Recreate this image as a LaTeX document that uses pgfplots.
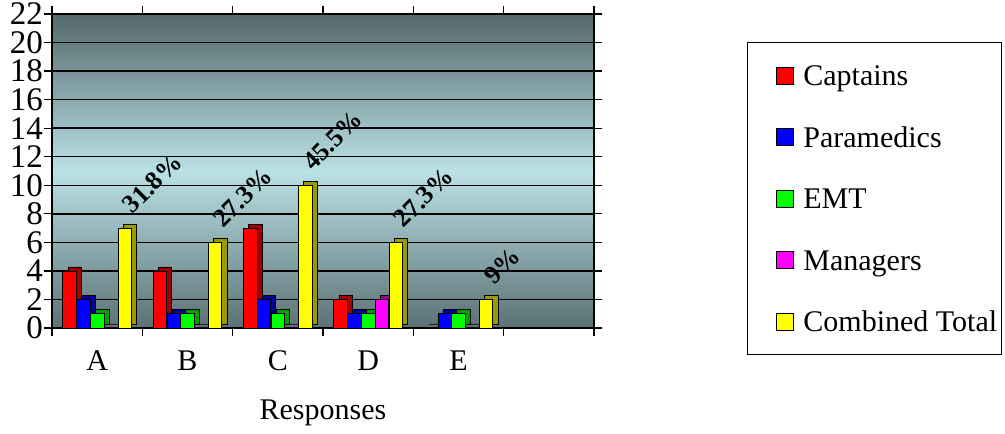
\documentclass[border=0pt]{standalone}
\usepackage{pgfplots}
\pgfplotsset{compat=1.18}
\usepackage{fontspec}
\setmainfont{Liberation Serif}
\newfontfamily\lser{Liberation Serif}
\definecolor{bgtop}{HTML}{55696D}
\definecolor{bgmid}{HTML}{BAE1E5}
\definecolor{bgbot}{HTML}{5B7175}
\definecolor{cred}{HTML}{FF0000}
\definecolor{cblue}{HTML}{0000FF}
\definecolor{cgreen}{HTML}{00FF00}
\definecolor{cmag}{HTML}{FF00FF}
\definecolor{cyel}{HTML}{FFFF00}
\definecolor{dred}{HTML}{A00000}
\definecolor{dblue}{HTML}{00009A}
\definecolor{dgreen}{HTML}{00A000}
\definecolor{dmag}{HTML}{A000A0}
\definecolor{dyel}{HTML}{9A9A00}
\pgfplotstableread{
x cap par emt man tot
0 4 2 1 0 7
1 4 1 1 0 6
2 7 2 1 0 10
3 2 1 1 2 6
4 0 1 1 0 2
}\datatable
\begin{document}
\begin{tikzpicture}
\useasboundingbox (0,0) rectangle (1005pt,434pt);
\begin{axis}[
  at={(52pt,106pt)}, anchor=south west,
  width=542pt, height=314pt, scale only axis,
  xmin=-0.5, xmax=5.5, ymin=0, ymax=22,
  ytick={0,2,...,22},
  ymajorgrids, grid style={black, line width=1.4pt},
  axis line style={black, line width=1.4pt},
  axis background/.style={shade, top color=bgtop, bottom color=bgbot, middle color=bgmid},
  tick align=outside, major tick length=8pt,
  tick style={black, line width=1.2pt},
  xtick={-0.5,0.5,1.5,2.5,3.5,4.5,5.5}, xticklabels={,,,,,,},
  extra x ticks={0,1,2,3,4}, extra x tick labels={A,B,C,D,E},
  extra x tick style={major tick length=0pt, tick style={draw=none},
     xticklabel style={font=\lser\fontsize{30}{32}\selectfont, yshift=-19pt}},
  yticklabel style={font=\lser\fontsize{33}{35}\selectfont, inner sep=1pt},
  /pgf/number format/assume math mode=true,
  xlabel={Responses},
  every axis x label/.style={at={(axis description cs:0.5,0)}, anchor=center, yshift=-85pt, font=\lser\fontsize{30}{32}\selectfont},
  legend image code/.code={\path (-24pt,0pt) (27pt,0pt); \draw[#1, draw=black, line width=1pt] (0pt,-8.5pt) rectangle (17pt,8.5pt);},
  legend cell align=left,
  legend style={at={(1.2823,0.9108)}, anchor=north west, draw=black, line width=1.2pt,
     font=\lser\fontsize{30}{32}\selectfont, inner xsep=4pt, inner ysep=16pt, row sep=27.5pt,
     nodes={inner sep=0pt, text height=27pt, text depth=7pt}},
  bar width=13.5pt,
]
% Captains
\addplot[ybar, bar shift=-27.6pt, fill=dred, draw=black, line width=0.6pt, xshift=5pt, yshift=4pt, forget plot] table[x=x, y=cap] {\datatable};
\addplot[ybar, bar shift=-27.6pt, fill=cred, draw=black, line width=0.8pt] table[x=x, y=cap] {\datatable};
\addlegendentry{Captains}
% Paramedics
\addplot[ybar, bar shift=-13.8pt, fill=dblue, draw=black, line width=0.6pt, xshift=5pt, yshift=4pt, forget plot] table[x=x, y=par] {\datatable};
\addplot[ybar, bar shift=-13.8pt, fill=cblue, draw=black, line width=0.8pt] table[x=x, y=par] {\datatable};
\addlegendentry{Paramedics}
% EMT
\addplot[ybar, bar shift=0pt, fill=dgreen, draw=black, line width=0.6pt, xshift=5pt, yshift=4pt, forget plot] table[x=x, y=emt] {\datatable};
\addplot[ybar, bar shift=0pt, fill=cgreen, draw=black, line width=0.8pt] table[x=x, y=emt] {\datatable};
\addlegendentry{EMT}
% Managers
\addplot[ybar, bar shift=13.8pt, fill=dmag, draw=black, line width=0.6pt, xshift=5pt, yshift=4pt, forget plot] table[x=x, y=man] {\datatable};
\addplot[ybar, bar shift=13.8pt, fill=cmag, draw=black, line width=0.8pt] table[x=x, y=man] {\datatable};
\addlegendentry{Managers}
% Combined Total
\addplot[ybar, bar shift=27.6pt, fill=dyel, draw=black, line width=0.6pt, xshift=5pt, yshift=4pt, forget plot] table[x=x, y=tot] {\datatable};
\addplot[ybar, bar shift=27.6pt, fill=cyel, draw=black, line width=0.8pt,
  point meta=explicit symbolic, nodes near coords,
  nodes near coords style={font=\lser\bfseries\fontsize{26}{28}\selectfont, text=black, anchor=south west, xshift=36pt, yshift=8pt, rotate=45}]
  coordinates {(0,7) [31.8\%] (1,6) [27.3\%] (2,10) [45.5\%] (3,6) [27.3\%] (4,2) [9\%]};
\addlegendentry{Combined Total}
\end{axis}
\end{tikzpicture}
\end{document}
